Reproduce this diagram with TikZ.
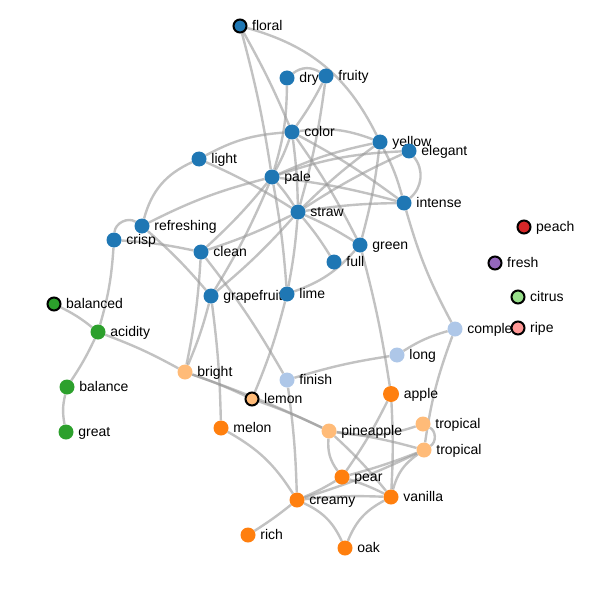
\documentclass[tikz,border=0pt]{standalone}
\usepackage{fontspec}
\setmainfont{Liberation Sans}
\usetikzlibrary{backgrounds}
\definecolor{cBlue}{HTML}{1F77B4}
\definecolor{cSky}{HTML}{AEC7E8}
\definecolor{cOrange}{HTML}{FF7F0E}
\definecolor{cApricot}{HTML}{FFBB78}
\definecolor{cGreen}{HTML}{2CA02C}
\definecolor{cMint}{HTML}{98DF8A}
\definecolor{cRed}{HTML}{D62728}
\definecolor{cRose}{HTML}{FF9896}
\definecolor{cPurple}{HTML}{9467BD}
\definecolor{cLink}{HTML}{999999}

\begin{document}
\begin{tikzpicture}[
    x=1pt, y=-1pt,
    dot/.style={circle, minimum size=15pt, inner sep=0pt},
    hub/.style={circle, minimum size=13pt, inner sep=0pt, draw=black, line width=2pt},
    lbl/.style={font=\fontsize{14}{16}\selectfont, inner sep=0pt, text height=1.45ex, text depth=0.3ex, yshift=-1pt},
    label distance=4.5pt,
    link/.style={draw=cLink, line width=2.4pt, opacity=0.6}
]
\useasboundingbox (0,0) rectangle (594,596);

% blue cluster
\node[hub, fill=cBlue, label={[lbl]right:floral}] (floral) at (240,26) {};
\node[dot, fill=cBlue, label={[lbl]right:dry}] (dry) at (287,78) {};
\node[dot, fill=cBlue, label={[lbl]right:fruity}] (fruity) at (326,76) {};
\node[dot, fill=cBlue, label={[lbl]right:color}] (color) at (292,132) {};
\node[dot, fill=cBlue, label={[lbl]right:yellow}] (yellow) at (380,142) {};
\node[dot, fill=cBlue, label={[lbl]right:elegant}] (elegant) at (409,151) {};
\node[dot, fill=cBlue, label={[lbl]right:light}] (light) at (199,159) {};
\node[dot, fill=cBlue, label={[lbl]right:pale}] (pale) at (272,177) {};
\node[dot, fill=cBlue, label={[lbl]right:straw}] (straw) at (298,212) {};
\node[dot, fill=cBlue, label={[lbl]right:intense}] (intense) at (404,203) {};
\node[dot, fill=cBlue, label={[lbl]right:refreshing}] (refreshing) at (142,226) {};
\node[dot, fill=cBlue, label={[lbl]right:crisp}] (crisp) at (114,240) {};
\node[dot, fill=cBlue, label={[lbl]right:clean}] (clean) at (201,252) {};
\node[dot, fill=cBlue, label={[lbl]right:green}] (green) at (360,245) {};
\node[dot, fill=cBlue, label={[lbl]right:full}] (full) at (334,262) {};
\node[dot, fill=cBlue, label={[lbl]right:grapefruit}] (grapefruit) at (211,296) {};
\node[dot, fill=cBlue, label={[lbl]right:lime}] (lime) at (287,294) {};

% green cluster
\node[hub, fill=cGreen, label={[lbl]right:balanced}] (balanced) at (54,304) {};
\node[dot, fill=cGreen, label={[lbl]right:acidity}] (acidity) at (98,332) {};
\node[dot, fill=cGreen, label={[lbl]right:balance}] (balance) at (67,387) {};
\node[dot, fill=cGreen, label={[lbl]right:great}] (great) at (66,432) {};

% light blue cluster
\node[dot, fill=cSky, label={[lbl]right:complex}] (complex) at (455,329) {};
\node[dot, fill=cSky, label={[lbl]right:long}] (long) at (397,355) {};
\node[dot, fill=cSky, label={[lbl]right:finish}] (finish) at (287,380) {};

% apricot cluster
\node[dot, fill=cApricot, label={[lbl]right:bright}] (bright) at (185,372) {};
\node[hub, fill=cApricot, label={[lbl]right:lemon}] (lemon) at (252,399) {};
\node[dot, fill=cApricot, label={[lbl]right:pineapple}] (pineapple) at (329,431) {};
\node[dot, fill=cApricot, label={[lbl]right:tropical}] (tropA) at (423,424) {};
\node[dot, fill=cApricot, label={[lbl]right:tropical}] (tropB) at (424,450) {};

% orange cluster
\node[dot, minimum size=16pt, fill=cOrange, label={[lbl]right:apple}] (apple) at (391,394) {};
\node[dot, fill=cOrange, label={[lbl]right:melon}] (melon) at (221,428) {};
\node[dot, fill=cOrange, label={[lbl]right:pear}] (pear) at (342,477) {};
\node[dot, fill=cOrange, label={[lbl]right:creamy}] (creamy) at (297,500) {};
\node[dot, fill=cOrange, label={[lbl]right:vanilla}] (vanilla) at (391,497) {};
\node[dot, fill=cOrange, label={[lbl]right:rich}] (rich) at (248,535) {};
\node[dot, fill=cOrange, label={[lbl]right:oak}] (oak) at (345,548) {};

% loose nodes
\node[hub, fill=cRed, label={[lbl]right:peach}] (peach) at (524,227) {};
\node[hub, fill=cPurple, label={[lbl]right:fresh}] (fresh) at (495,263) {};
\node[hub, fill=cMint, label={[lbl]right:citrus}] (citrus) at (518,297) {};
\node[hub, fill=cRose, label={[lbl]right:ripe}] (ripe) at (518,328) {};

\begin{scope}[on background layer]
\foreach \a/\b/\c in {
    floral/pale/3, floral/color/3, floral/yellow/24, dry/fruity/35, dry/pale/8,
    fruity/color/4, fruity/straw/4, color/pale/4, color/straw/3, color/yellow/14,
    light/color/12, refreshing/light/25, light/straw/4, color/green/4, color/intense/4,
    pale/yellow/6, pale/elegant/8, pale/intense/4, pale/straw/4, refreshing/pale/6,
    pale/clean/4, pale/grapefruit/4, pale/lime/3,
    straw/clean/4, straw/intense/4, straw/green/4, straw/full/4, straw/lime/3,
    straw/grapefruit/4, straw/yellow/4, straw/elegant/4,
    elegant/intense/45, yellow/intense/6, yellow/green/4,
    crisp/refreshing/60, crisp/clean/4, refreshing/grapefruit/4, crisp/acidity/6,
    clean/bright/4, clean/finish/4, grapefruit/bright/4, grapefruit/melon/3,
    lime/lemon/4, lime/green/-14,
    balanced/acidity/6, acidity/bright/4, acidity/balance/4, balance/great/-12,
    bright/lemon/3, bright/pineapple/3, lemon/pineapple/3,
    finish/long/4, long/complex/8, finish/creamy/3, complex/intense/6, complex/tropB/-6,
    green/apple/3, apple/pear/4, apple/vanilla/3,
    pineapple/tropA/-14, pineapple/tropB/4, pineapple/pear/-20, pineapple/vanilla/4,
    tropA/tropB/60, tropB/pear/3, tropB/creamy/4, tropB/vanilla/-20,
    pear/creamy/4, pear/vanilla/4, creamy/vanilla/4, creamy/rich/3,
    creamy/oak/20, vanilla/oak/-20, melon/creamy/14}
  \draw[link] (\a) to[bend left=\c] (\b);
\end{scope}

\end{tikzpicture}
\end{document}
